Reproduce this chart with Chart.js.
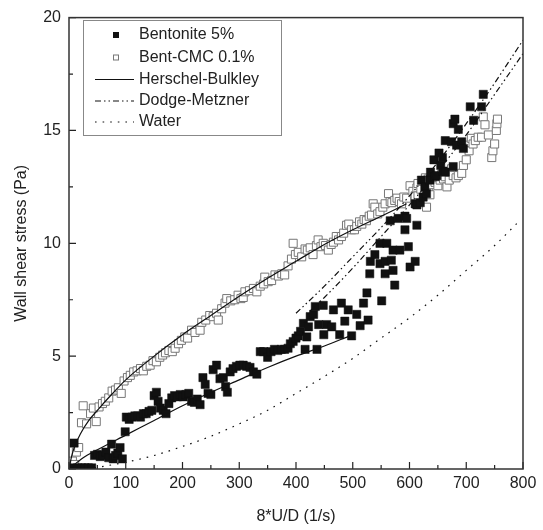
<!DOCTYPE html>
<html>
<head>
<meta charset="utf-8">
<script src="https://cdn.jsdelivr.net/npm/chart.js@4.4.1/dist/chart.umd.min.js"></script>
<style>
html, body { margin: 0; padding: 0; background: #fff; }
</style>
</head>
<body>
<canvas id="chart" width="543" height="530"></canvas>
<script>
// axis ticks
var xTicks = [0, 100, 200, 300, 400, 500, 600, 700, 800];
var xMinor = [50, 150, 250, 350, 450, 550, 650, 750];
var yTicks = [0, 5, 10, 15, 20];
var yMinor = [2.5, 7.5, 12.5, 17.5];

// measured points, [8U/D, wall shear stress]
var bentonite = [
  [3,0.05],[9,1.15],[15,0.05],[22,0.05],[28,0.05],[34,0.05],[40,0.05],[45,0.6],[50,0.65],[55,0.55],
  [60,0.6],[65,0.75],[70,0.5],[75,1.1],[78,0.45],[82,0.6],[86,0.7],[90,0.95],[94,0.45],[99,1.65],
  [101,2.3],[106,2.2],[111,2.3],[116,2.35],[121,2.35],[126,2.3],[131,2.45],[136,2.45],[141,2.55],[146,2.6],
  [150,3.25],[154,3.4],[157,3.0],[161,2.7],[166,2.6],[171,2.45],[176,2.9],[181,3.15],[186,3.25],[191,3.2],
  [196,3.3],[201,3.2],[206,3.3],[211,3.35],[216,3.0],[221,2.95],[226,3.1],[231,2.85],[236,4.05],[240,3.75],
  [245,3.35],[250,3.3],[254,4.4],[260,4.6],[266,4.0],[272,4.05],[276,3.65],[279,3.4],[284,4.3],[289,4.45],
  [295,4.55],[301,4.6],[307,4.6],[313,4.55],[319,4.5],[325,4.3],[331,4.2],[337,5.2],[343,5.2],[350,4.95],
  [356,5.2],[362,5.3],[368,5.25],[374,5.3],[380,5.3],[386,5.35],[390,5.55],[395,5.65],[400,5.8],[404,5.9],
  [408,6.1],[413,6.45],[416,5.3],[419,5.85],[422,6.3],[425,6.75],[431,6.85],[434,7.2],[437,5.3],[440,6.4],
  [448,7.25],[449,5.95],[454,6.4],[463,6.3],[466,7.05],[477,5.95],[480,7.35],[486,6.55],[492,7.05],[498,5.9],
  [507,6.85],[513,6.35],[519,7.35],[525,7.8],[527,6.6],[530,8.65],[531,9.2],[539,9.5],[548,9.1],[548,10.0],
  [551,7.45],[557,8.65],[557,9.2],[560,10.0],[566,11.0],[568,9.25],[571,8.8],[571,9.7],[574,8.15],[580,11.1],
  [583,9.7],[592,11.2],[592,10.6],[595,11.1],[598,9.85],[601,8.95],[610,9.2],[610,11.75],[613,10.8],[613,11.7],
  [619,11.8],[621,12.8],[624,12.05],[627,12.5],[630,12.2],[636,12.8],[637,13.15],[643,13.7],[645,12.95],[648,13.0],
  [652,14.0],[655,13.45],[658,13.8],[659,13.2],[663,14.55],[663,13.15],[674,14.5],[677,15.3],[677,13.4],[680,15.5],
  [683,14.35],[686,15.05],[692,14.5],[695,14.2],[707,16.05],[713,15.45],[727,16.05],[730,16.6]
];
var bentCmc = [
  [2,0.1],[6,0.35],[10,0.2],[13,0.75],[17,0.95],[22,2.05],[25,2.8],[31,2.0],[38,2.45],[43,2.7],
  [48,2.1],[53,2.75],[59,2.9],[64,3.0],[70,3.15],[76,3.45],[82,3.5],[87,3.6],[92,3.35],[97,3.9],
  [103,4.05],[108,4.15],[114,4.3],[120,4.35],[126,4.45],[131,4.35],[137,4.55],[143,4.6],[148,4.8],[154,4.75],
  [160,4.95],[165,5.05],[170,5.15],[176,5.25],[182,5.2],[187,5.35],[193,5.55],[198,5.7],[204,5.85],[209,5.8],
  [216,6.15],[222,6.05],[231,6.15],[234,6.5],[241,6.6],[248,6.8],[254,6.75],[260,6.9],[263,6.6],[269,7.1],
  [275,7.35],[278,7.55],[285,7.45],[292,7.5],[298,7.7],[303,7.55],[307,7.6],[310,7.85],[318,7.9],[325,8.0],
  [331,7.85],[337,8.1],[343,8.2],[345,8.5],[351,8.3],[357,8.35],[363,8.6],[369,8.55],[375,8.65],[380,8.6],
  [386,9.0],[392,9.3],[395,10.0],[399,9.5],[404,9.6],[410,9.4],[416,9.75],[420,9.7],[425,9.8],[430,9.5],
  [436,9.9],[439,10.15],[444,9.85],[448,10.0],[452,9.9],[457,9.7],[462,9.95],[466,10.05],[471,10.3],[475,10.15],
  [480,10.3],[484,10.45],[489,10.8],[493,10.85],[498,10.6],[503,10.6],[507,10.75],[512,10.95],[516,10.85],[520,11.05],
  [524,11.0],[529,11.2],[533,11.25],[536,11.75],[539,11.6],[544,11.3],[548,11.4],[553,11.6],[557,11.75],[563,12.2],
  [566,11.85],[569,11.8],[574,11.9],[578,12.0],[582,11.85],[586,11.75],[590,12.05],[595,12.0],[601,12.55],[606,12.3],
  [610,12.1],[613,12.45],[615,12.65],[615,12.1],[620,12.4],[624,12.75],[628,12.9],[630,11.6],[633,12.85],[633,12.35],
  [636,12.15],[640,12.6],[642,12.85],[645,12.7],[650,12.55],[654,12.8],[660,12.85],[663,12.95],[666,12.5],[670,12.8],
  [674,13.3],[677,13.0],[682,12.9],[686,13.0],[692,13.1],[695,13.45],[700,13.7],[700,14.35],[705,14.1],[709,14.65],
  [712,14.4],[716,14.55],[721,14.7],[727,14.7],[730,15.6],[733,15.25],[739,14.8],[745,13.8],[747,14.1],[750,14.4],
  [753,15.0],[754,15.3],[755,15.5]
];

// model curves
var hbCmc = [[0,0],[5,0.6],[10,1.0],[20,1.55],[35,2.15],[50,2.6],[75,3.3],[100,3.95],[150,5.0],[200,5.95],
  [250,6.8],[300,7.65],[350,8.45],[400,9.2],[450,9.95],[500,10.6],[550,11.2],[595,11.75]];
var hbBent = [[0,0],[25,0.5],[50,0.85],[100,1.5],[150,2.15],[200,2.8],[250,3.4],[300,3.95],[350,4.5],
  [400,5.0],[450,5.45],[495,5.9]];
var dmBent = [[400,6.9],[450,8.1],[500,9.4],[550,10.7],[600,12.1],[650,13.6],[700,15.3],[750,17.1],[800,19.0]];
var dmCmc = [[425,7.0],[450,7.6],[500,8.9],[550,10.3],[600,11.7],[650,13.2],[700,14.8],[750,16.6],[800,18.4]];
var water = [[45,0.05],[100,0.3],[150,0.6],[200,1.0],[250,1.45],[300,2.0],[350,2.6],[400,3.35],[450,4.1],
  [500,4.9],[550,5.8],[600,6.7],[650,7.7],[700,8.8],[750,9.9],[790,10.9]];

function pts(a) { return a.map(function (p) { return {x: p[0], y: p[1]}; }); }

var FONT = '"Liberation Sans", Arial, sans-serif';
var dmDash = [6, 3, 1.5, 3, 1.5, 3];
var waterDash = [1.6, 6];

function lineSet(label, data, dash, order) {
  return {
    type: 'line', label: label, data: pts(data), showLine: true,
    borderColor: '#111', borderWidth: 1.2, borderDash: dash,
    pointRadius: 0, fill: false, cubicInterpolationMode: 'monotone', order: order
  };
}

var frameTicks = {
  id: 'frameTicks',
  afterDatasetsDraw: function (chart) {
    var ctx = chart.ctx, a = chart.chartArea;
    var xs = chart.scales.x, ys = chart.scales.y;
    ctx.save();
    ctx.strokeStyle = '#222';
    ctx.lineWidth = 1.2;
    ctx.beginPath();
    xTicks.forEach(function (v) { var p = xs.getPixelForValue(v); ctx.moveTo(p, a.bottom); ctx.lineTo(p, a.bottom - 7); });
    xMinor.forEach(function (v) { var p = xs.getPixelForValue(v); ctx.moveTo(p, a.bottom); ctx.lineTo(p, a.bottom - 4); });
    yTicks.forEach(function (v) { var p = ys.getPixelForValue(v); ctx.moveTo(a.left, p); ctx.lineTo(a.left + 7, p); });
    yMinor.forEach(function (v) { var p = ys.getPixelForValue(v); ctx.moveTo(a.left, p); ctx.lineTo(a.left + 4, p); });
    ctx.stroke();
    ctx.lineWidth = 1.5;
    ctx.strokeStyle = '#333';
    ctx.strokeRect(a.left, a.top, a.right - a.left, a.bottom - a.top);
    ctx.restore();
  },
  afterDraw: function (chart) {
    var ctx = chart.ctx;
    ctx.save();
    ctx.fillStyle = '#fff';
    ctx.fillRect(83, 20, 198, 115);
    ctx.strokeStyle = '#888';
    ctx.lineWidth = 1;
    ctx.strokeRect(83.5, 20.5, 198, 115);
    var rows = [35, 57.5, 79.5, 101, 122];
    var names = ['Bentonite 5%', 'Bent-CMC 0.1%', 'Herschel-Bulkley', 'Dodge-Metzner', 'Water'];
    ctx.fillStyle = '#111';
    ctx.fillRect(113, rows[0] - 3, 6, 6);
    ctx.fillStyle = '#fff';
    ctx.strokeStyle = '#777';
    ctx.fillRect(113, rows[1] - 3, 6, 6);
    ctx.strokeRect(113.5, rows[1] - 2.5, 5, 5);
    ctx.strokeStyle = '#111';
    ctx.lineWidth = 1.2;
    [[], dmDash, waterDash].forEach(function (d, i) {
      ctx.setLineDash(d);
      ctx.beginPath();
      ctx.moveTo(95, rows[i + 2]);
      ctx.lineTo(134, rows[i + 2]);
      ctx.stroke();
    });
    ctx.setLineDash([]);
    ctx.fillStyle = '#222';
    ctx.font = '16px ' + FONT;
    ctx.textBaseline = 'middle';
    names.forEach(function (n, i) { ctx.fillText(n, 139, rows[i]); });
    ctx.restore();
  }
};

new Chart(document.getElementById('chart').getContext('2d'), {
  type: 'scatter',
  data: {
    datasets: [
      {
        label: 'Bentonite 5%', data: pts(bentonite), pointStyle: 'rect',
        pointRadius: 5.8, backgroundColor: '#111', borderColor: '#111', borderWidth: 0.5, order: 1
      },
      {
        label: 'Bent-CMC 0.1%', data: pts(bentCmc), pointStyle: 'rect',
        pointRadius: 5.7, backgroundColor: '#fff', borderColor: '#777', borderWidth: 1, order: 2
      },
      lineSet('Herschel-Bulkley', hbCmc, [], 0),
      lineSet('Herschel-Bulkley (bentonite)', hbBent, [], 0),
      lineSet('Dodge-Metzner', dmBent, dmDash, 0),
      lineSet('Dodge-Metzner (CMC)', dmCmc, dmDash, 0),
      lineSet('Water', water, waterDash, 3)
    ]
  },
  options: {
    responsive: false,
    animation: false,
    layout: { padding: { left: 0, right: 20, top: 17, bottom: 0 } },
    plugins: { legend: { display: false }, tooltip: { enabled: false } },
    scales: {
      x: {
        type: 'linear', min: 0, max: 800,
        afterFit: function (s) { s.height = 61; },
        afterBuildTicks: function (s) { s.ticks = xTicks.map(function (v) { return {value: v}; }); },
        grid: { display: false, drawTicks: false },
        border: { display: false },
        ticks: { padding: 5, color: '#222', font: { family: FONT, size: 16 }, maxRotation: 0 },
        title: { display: true, text: '8*U/D (1/s)', color: '#222', font: { family: FONT, size: 16 }, padding: { top: 0, bottom: 4 } }
      },
      y: {
        type: 'linear', min: 0, max: 20,
        afterFit: function (s) { s.width = 69; },
        afterBuildTicks: function (s) { s.ticks = yTicks.map(function (v) { return {value: v}; }); },
        grid: { display: false, drawTicks: false },
        border: { display: false },
        ticks: { padding: 8, color: '#222', font: { family: FONT, size: 16 } },
        title: { display: true, text: 'Wall shear stress (Pa)', color: '#222', font: { family: FONT, size: 16 }, padding: { top: 12, bottom: 0 } }
      }
    }
  },
  plugins: [frameTicks]
});
</script>
</body>
</html>
